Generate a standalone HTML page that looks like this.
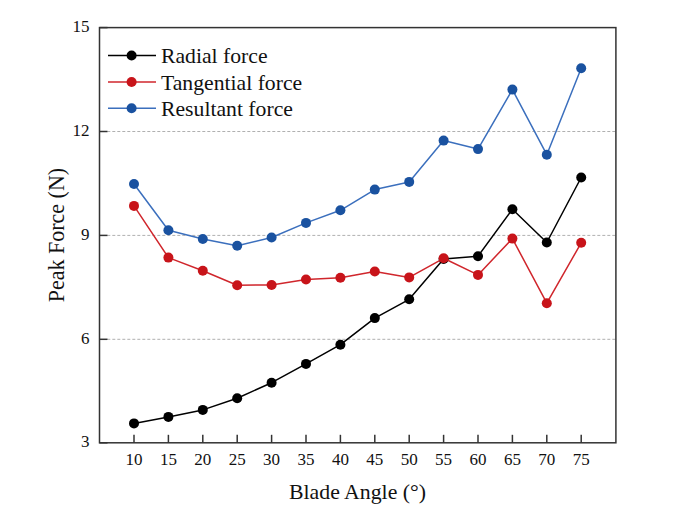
<!DOCTYPE html>
<html><head><meta charset="utf-8"><style>
html,body{margin:0;padding:0;background:#fff;}
svg{display:block;}
text{font-family:"Liberation Serif",serif;fill:#111;}
.tk{font-size:17px;}
.lg{font-size:21.7px;}
.ax{font-size:22px;}
</style></head><body>
<svg width="685" height="512" viewBox="0 0 685 512">
<rect width="685" height="512" fill="#fff"/>
<line x1="107.3" y1="131.5" x2="615.9" y2="131.5" stroke="#b0b0b0" stroke-width="1" stroke-dasharray="3,2"/>
<line x1="107.3" y1="235.4" x2="615.9" y2="235.4" stroke="#b0b0b0" stroke-width="1" stroke-dasharray="3,2"/>
<line x1="107.3" y1="339.3" x2="615.9" y2="339.3" stroke="#b0b0b0" stroke-width="1" stroke-dasharray="3,2"/>
<rect x="99.5" y="27.6" width="516.4" height="415.2" fill="none" stroke="#333" stroke-width="1.5"/>
<line x1="99.5" y1="27.6" x2="107.5" y2="27.6" stroke="#333" stroke-width="1.5"/>
<text x="89.5" y="32.1" text-anchor="end" class="tk">15</text>
<line x1="99.5" y1="131.5" x2="107.5" y2="131.5" stroke="#333" stroke-width="1.5"/>
<text x="89.5" y="136.0" text-anchor="end" class="tk">12</text>
<line x1="99.5" y1="235.4" x2="107.5" y2="235.4" stroke="#333" stroke-width="1.5"/>
<text x="89.5" y="239.9" text-anchor="end" class="tk">9</text>
<line x1="99.5" y1="339.3" x2="107.5" y2="339.3" stroke="#333" stroke-width="1.5"/>
<text x="89.5" y="343.8" text-anchor="end" class="tk">6</text>
<line x1="99.5" y1="442.8" x2="107.5" y2="442.8" stroke="#333" stroke-width="1.5"/>
<text x="89.5" y="447.3" text-anchor="end" class="tk">3</text>
<line x1="134.0" y1="442.8" x2="134.0" y2="434.8" stroke="#333" stroke-width="1.5"/>
<text x="134.0" y="465.3" text-anchor="middle" class="tk">10</text>
<line x1="168.4" y1="442.8" x2="168.4" y2="434.8" stroke="#333" stroke-width="1.5"/>
<text x="168.4" y="465.3" text-anchor="middle" class="tk">15</text>
<line x1="202.8" y1="442.8" x2="202.8" y2="434.8" stroke="#333" stroke-width="1.5"/>
<text x="202.8" y="465.3" text-anchor="middle" class="tk">20</text>
<line x1="237.2" y1="442.8" x2="237.2" y2="434.8" stroke="#333" stroke-width="1.5"/>
<text x="237.2" y="465.3" text-anchor="middle" class="tk">25</text>
<line x1="271.6" y1="442.8" x2="271.6" y2="434.8" stroke="#333" stroke-width="1.5"/>
<text x="271.6" y="465.3" text-anchor="middle" class="tk">30</text>
<line x1="306.0" y1="442.8" x2="306.0" y2="434.8" stroke="#333" stroke-width="1.5"/>
<text x="306.0" y="465.3" text-anchor="middle" class="tk">35</text>
<line x1="340.4" y1="442.8" x2="340.4" y2="434.8" stroke="#333" stroke-width="1.5"/>
<text x="340.4" y="465.3" text-anchor="middle" class="tk">40</text>
<line x1="374.8" y1="442.8" x2="374.8" y2="434.8" stroke="#333" stroke-width="1.5"/>
<text x="374.8" y="465.3" text-anchor="middle" class="tk">45</text>
<line x1="409.2" y1="442.8" x2="409.2" y2="434.8" stroke="#333" stroke-width="1.5"/>
<text x="409.2" y="465.3" text-anchor="middle" class="tk">50</text>
<line x1="443.6" y1="442.8" x2="443.6" y2="434.8" stroke="#333" stroke-width="1.5"/>
<text x="443.6" y="465.3" text-anchor="middle" class="tk">55</text>
<line x1="478.0" y1="442.8" x2="478.0" y2="434.8" stroke="#333" stroke-width="1.5"/>
<text x="478.0" y="465.3" text-anchor="middle" class="tk">60</text>
<line x1="512.4" y1="442.8" x2="512.4" y2="434.8" stroke="#333" stroke-width="1.5"/>
<text x="512.4" y="465.3" text-anchor="middle" class="tk">65</text>
<line x1="546.8" y1="442.8" x2="546.8" y2="434.8" stroke="#333" stroke-width="1.5"/>
<text x="546.8" y="465.3" text-anchor="middle" class="tk">70</text>
<line x1="581.2" y1="442.8" x2="581.2" y2="434.8" stroke="#333" stroke-width="1.5"/>
<text x="581.2" y="465.3" text-anchor="middle" class="tk">75</text>
<polyline points="134.0,423.4 168.4,416.9 202.8,409.9 237.2,398.2 271.6,382.7 306.0,363.9 340.4,344.7 374.8,318.1 409.2,299.3 443.6,259.0 478.0,256.2 512.4,209.2 546.8,242.5 581.2,177.5" fill="none" stroke="#000000" stroke-width="1.5" stroke-linejoin="round"/>
<circle cx="134.0" cy="423.4" r="5.0" fill="#000000"/>
<circle cx="168.4" cy="416.9" r="5.0" fill="#000000"/>
<circle cx="202.8" cy="409.9" r="5.0" fill="#000000"/>
<circle cx="237.2" cy="398.2" r="5.0" fill="#000000"/>
<circle cx="271.6" cy="382.7" r="5.0" fill="#000000"/>
<circle cx="306.0" cy="363.9" r="5.0" fill="#000000"/>
<circle cx="340.4" cy="344.7" r="5.0" fill="#000000"/>
<circle cx="374.8" cy="318.1" r="5.0" fill="#000000"/>
<circle cx="409.2" cy="299.3" r="5.0" fill="#000000"/>
<circle cx="443.6" cy="259.0" r="5.0" fill="#000000"/>
<circle cx="478.0" cy="256.2" r="5.0" fill="#000000"/>
<circle cx="512.4" cy="209.2" r="5.0" fill="#000000"/>
<circle cx="546.8" cy="242.5" r="5.0" fill="#000000"/>
<circle cx="581.2" cy="177.5" r="5.0" fill="#000000"/>

<polyline points="134.0,184.0 168.4,230.2 202.8,239.0 237.2,245.8 271.6,237.5 306.0,222.9 340.4,210.3 374.8,189.6 409.2,181.9 443.6,140.6 478.0,149.1 512.4,89.6 546.8,154.7 581.2,68.2" fill="none" stroke="#3b6fbd" stroke-width="1.5" stroke-linejoin="round"/>
<circle cx="134.0" cy="184.0" r="5.0" fill="#1a52a0"/>
<circle cx="168.4" cy="230.2" r="5.0" fill="#1a52a0"/>
<circle cx="202.8" cy="239.0" r="5.0" fill="#1a52a0"/>
<circle cx="237.2" cy="245.8" r="5.0" fill="#1a52a0"/>
<circle cx="271.6" cy="237.5" r="5.0" fill="#1a52a0"/>
<circle cx="306.0" cy="222.9" r="5.0" fill="#1a52a0"/>
<circle cx="340.4" cy="210.3" r="5.0" fill="#1a52a0"/>
<circle cx="374.8" cy="189.6" r="5.0" fill="#1a52a0"/>
<circle cx="409.2" cy="181.9" r="5.0" fill="#1a52a0"/>
<circle cx="443.6" cy="140.6" r="5.0" fill="#1a52a0"/>
<circle cx="478.0" cy="149.1" r="5.0" fill="#1a52a0"/>
<circle cx="512.4" cy="89.6" r="5.0" fill="#1a52a0"/>
<circle cx="546.8" cy="154.7" r="5.0" fill="#1a52a0"/>
<circle cx="581.2" cy="68.2" r="5.0" fill="#1a52a0"/>

<polyline points="134.0,205.9 168.4,257.6 202.8,270.7 237.2,285.2 271.6,285.0 306.0,279.5 340.4,277.8 374.8,271.5 409.2,277.4 443.6,258.3 478.0,274.9 512.4,238.6 546.8,303.2 581.2,242.8" fill="none" stroke="#d0262c" stroke-width="1.5" stroke-linejoin="round"/>
<circle cx="134.0" cy="205.9" r="5.0" fill="#c8141a"/>
<circle cx="168.4" cy="257.6" r="5.0" fill="#c8141a"/>
<circle cx="202.8" cy="270.7" r="5.0" fill="#c8141a"/>
<circle cx="237.2" cy="285.2" r="5.0" fill="#c8141a"/>
<circle cx="271.6" cy="285.0" r="5.0" fill="#c8141a"/>
<circle cx="306.0" cy="279.5" r="5.0" fill="#c8141a"/>
<circle cx="340.4" cy="277.8" r="5.0" fill="#c8141a"/>
<circle cx="374.8" cy="271.5" r="5.0" fill="#c8141a"/>
<circle cx="409.2" cy="277.4" r="5.0" fill="#c8141a"/>
<circle cx="443.6" cy="258.3" r="5.0" fill="#c8141a"/>
<circle cx="478.0" cy="274.9" r="5.0" fill="#c8141a"/>
<circle cx="512.4" cy="238.6" r="5.0" fill="#c8141a"/>
<circle cx="546.8" cy="303.2" r="5.0" fill="#c8141a"/>
<circle cx="581.2" cy="242.8" r="5.0" fill="#c8141a"/>

<line x1="108" y1="55.5" x2="156" y2="55.5" stroke="#000000" stroke-width="1.5"/>
<circle cx="131.6" cy="55.5" r="5.0" fill="#000000"/>
<text x="161" y="63.1" class="lg">Radial force</text>
<line x1="108" y1="82.0" x2="156" y2="82.0" stroke="#d0262c" stroke-width="1.5"/>
<circle cx="131.6" cy="82.0" r="5.0" fill="#c8141a"/>
<text x="161" y="89.6" class="lg">Tangential force</text>
<line x1="108" y1="108.3" x2="156" y2="108.3" stroke="#3b6fbd" stroke-width="1.5"/>
<circle cx="131.6" cy="108.3" r="5.0" fill="#1a52a0"/>
<text x="161" y="115.89999999999999" class="lg">Resultant force</text>
<text x="357.5" y="499" text-anchor="middle" class="ax" style="font-size:21.8px">Blade Angle (°)</text>
<text transform="translate(64,235) rotate(-90) scale(1,1.08)" x="0" y="0" text-anchor="middle" class="ax">Peak Force (N)</text>
</svg>
</body></html>
